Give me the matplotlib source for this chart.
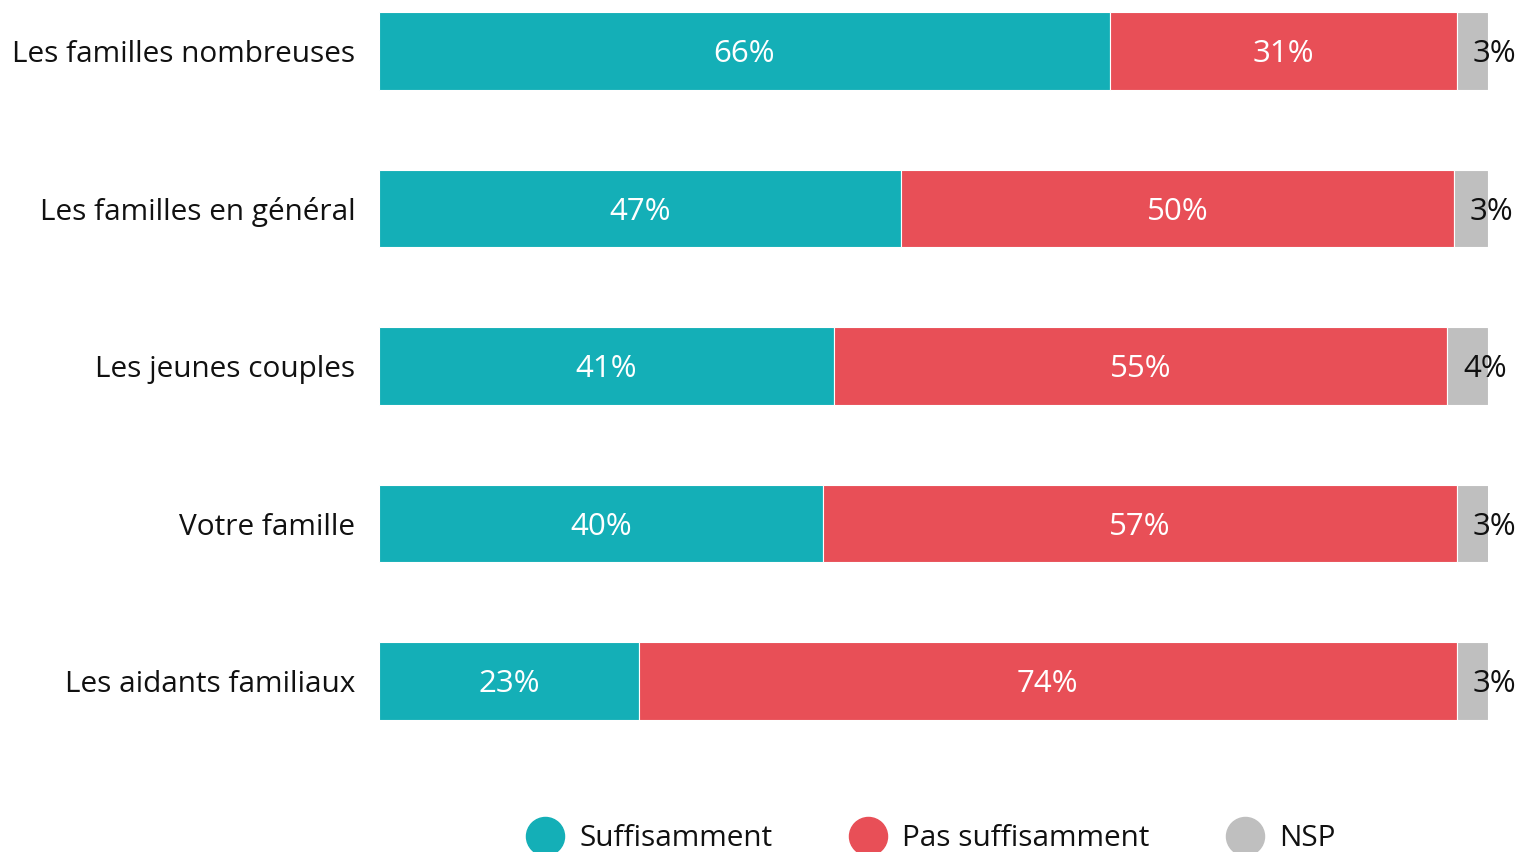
import matplotlib
matplotlib.use("Agg")
import matplotlib.pyplot as plt
from matplotlib.lines import Line2D

plt.rcParams['font.family'] = ['Open Sans', 'DejaVu Sans']

categories = ["Les familles nombreuses", "Les familles en général", "Les jeunes couples",
              "Votre famille", "Les aidants familiaux"]
suffisamment = [65.9, 47.1, 41.0, 40.0, 23.4]
pas_suffisamment = [31.3, 49.8, 55.3, 57.2, 73.8]
nsp = [2.8, 3.1, 3.7, 2.9, 2.8]
series_names = ["Suffisamment", "Pas suffisamment", "NSP"]
colors = ["#14AFB7", "#E84F57", "#BFBFBF"]

W, H = 1519, 852
fig = plt.figure(figsize=(W / 100, H / 100), dpi=100)
ax_top, ax_bot = 12, 720
ax = fig.add_axes([379 / W, 1 - ax_bot / H, (1488 - 379) / W, (ax_bot - ax_top) / H])

bar_h = 0.495
ypos = list(range(len(categories)))
ax.set_ylim(len(categories) - 1 + bar_h / 2, -bar_h / 2)
ax.set_xlim(0, 100)

left = [0.0] * len(categories)
for vals, col, name in zip([suffisamment, pas_suffisamment, nsp], colors, series_names):
    ax.barh(ypos, vals, left=left, height=bar_h, color=col, edgecolor="white", linewidth=0.8)
    for y, v, l in zip(ypos, vals, left):
        if name == "NSP":
            ax.annotate(f"{round(v):d}%", xy=(l, y), xytext=(11.5, -2.5), textcoords="offset points",
                        ha="left", va="center", fontsize=22.5, color="#111111")
        else:
            ax.annotate(f"{round(v):d}%", xy=(l + v / 2, y), xytext=(0, -2.5), textcoords="offset points",
                        ha="center", va="center", fontsize=22.5, color="white")
    left = [a + b for a, b in zip(left, vals)]

ax.set_yticks(ypos)
ax.set_yticklabels(categories, fontsize=21.4, color="#111111")
ax.tick_params(axis="y", length=0, pad=17)
ax.set_xticks([])
for s in ax.spines.values():
    s.set_visible(False)

fs = 21.4
handles = [Line2D([0], [0], marker="o", linestyle="none", markersize=27.4, markerfacecolor=c,
                  markeredgecolor=c) for c in colors]
leg = fig.legend(handles, series_names, loc="center", bbox_to_anchor=(931 / W, 1 - 839 / H), ncol=3,
                 frameon=False, fontsize=fs, handletextpad=11 / fs, columnspacing=55 / fs,
                 handlelength=27.4 / fs, borderpad=0, borderaxespad=0)
for t in leg.get_texts():
    t.set_color("#111111")

fig.savefig("out.png", dpi=100)
